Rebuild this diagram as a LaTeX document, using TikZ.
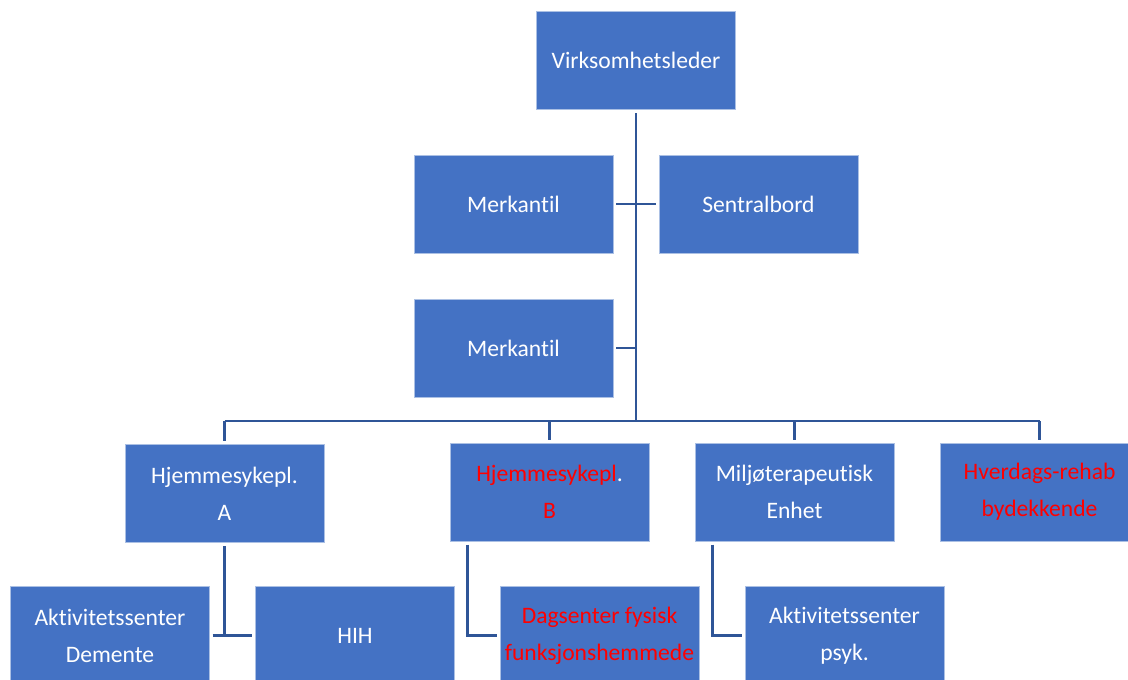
\documentclass[tikz,border=0pt]{standalone}
\usepackage{fontspec}
\setmainfont{Carlito}[Ligatures={NoCommon}]
\definecolor{boxblue}{HTML}{4472C4}
\definecolor{lineblue}{HTML}{2F5597}
\definecolor{txtred}{HTML}{FF0000}
\begin{document}
\begin{tikzpicture}[x=0.75pt,y=-0.75pt,
	orgbox/.style={draw=white!55!boxblue,line width=0.6pt,fill=boxblue,text=white,
		minimum width=149.25pt,minimum height=73.5pt,align=center,inner sep=0pt,
		font=\fontsize{17.7}{27.7}\selectfont},
	link/.style={draw=lineblue,line width=2.2pt},
	sublink/.style={draw=lineblue,line width=2pt}]
		\useasboundingbox (0,0) rectangle (1128,679);
		\clip (0,0) rectangle (1128,679);
		
		\node[orgbox] (leder) at (636,60.5) {Virksomhetsleder};
		\node[orgbox] (merk1) at (513.5,204) {Merkantil};
		\node[orgbox] (sentral) at (758.5,204) {Sentralbord};
		\node[orgbox] (merk2) at (513.5,348) {Merkantil};
		
		\node[orgbox] (hjemA) at (224.5,493.5) {Hjemmesykepl.\\A};
		\node[orgbox] (hjemB) at (549.5,492) {\textcolor{txtred}{Hjemmesykepl}.\\\textcolor{txtred}{B}};
		\node[orgbox] (miljo) at (794.5,492) {Miljøterapeutisk\\Enhet};
		\node[orgbox] (hverd) at (1039.5,492) {\textcolor{txtred}{Hverdags-rehab}\\\textcolor{txtred}{bydekkende}};
		
		\node[orgbox] (aktDem) at (110,635.5) {Aktivitetssenter\\Demente};
		\node[orgbox] (hih) at (355,635.5) {HIH};
		\node[orgbox] (dagsenter) at (599.5,635.5) {\textcolor{txtred}{Dagsenter fysisk}\\\textcolor{txtred}{funksjonshemmede}};
		\node[orgbox] (aktPsyk) at (844.5,635.5) {Aktivitetssenter\\psyk.};
		
		\coordinate (bar) at (636,421);
		
		% trunk and staff
		\draw[link,shorten <=2.5pt] (leder.south) -- (leder.south |- bar);
		\draw[link,shorten <=2pt,shorten >=2pt] (merk1.east) -- (sentral.west);
		\draw[link,shorten <=2pt] (merk2.east) -- (merk2.east -| leder.south);
		
		% units
		\draw[link] (hjemA.north |- bar) -- (hverd.north |- bar);
		\draw[link,shorten >=2pt] (hjemA.north |- bar) -- (hjemA.north);
		\draw[link,shorten >=2pt] (hjemB.north |- bar) -- (hjemB.north);
		\draw[link,shorten >=2pt] (miljo.north |- bar) -- (miljo.north);
		\draw[link,shorten >=2pt] (hverd.north |- bar) -- (hverd.north);
		
		% sub units
		\draw[sublink,shorten <=2.5pt] (hjemA.south) -- (hjemA.south |- aktDem.east);
		\draw[sublink,shorten <=2pt,shorten >=2pt] (aktDem.east) -- (hih.west);
		\draw[sublink,shorten <=2.5pt,shorten >=2pt] ([xshift=13.5pt]hjemB.south west) |- (dagsenter.west);
		\draw[sublink,shorten <=2.5pt,shorten >=2pt] ([xshift=13.5pt]miljo.south west) |- (aktPsyk.west);
\end{tikzpicture}
\end{document}
